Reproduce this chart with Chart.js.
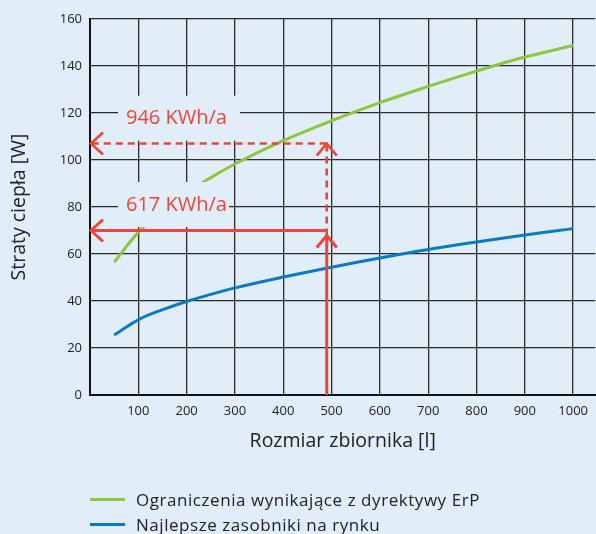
<!DOCTYPE html>
<html>
<head>
<meta charset="utf-8">
<script src="https://cdn.jsdelivr.net/npm/chart.js@4.4.1/dist/chart.umd.min.js"></script>
<style>
    html, body { margin: 0; padding: 0; background: #e1edf8; }
    #wrap { position: relative; width: 596px; height: 534px; }
    #legend { position: absolute; left: 90px; top: 487px; font-family: 'Open Sans', sans-serif; font-size: 17px; letter-spacing: 0.55px; color: #222; }
    .item { display: flex; align-items: center; height: 25px; }
    .swatch { width: 35px; height: 3px; margin-right: 11px; }
</style>
</head>
<body>
<div id="wrap">
    <canvas id="chart" width="596" height="534"></canvas>
    <div id="legend"></div>
</div>
<script>
// dane
const volumes = [50, 100, 150, 200, 250, 300, 400, 500, 600, 700, 800, 900, 1000];
const erpLimit = [56.5, 69.2, 78.5, 86.1, 92.5, 98.3, 108.2, 116.7, 124.4, 131.3, 137.8, 143.8, 148.7];
const bestOnMarket = [25.5, 32, 36.3, 39.8, 42.8, 45.6, 50.2, 54.4, 58.3, 61.9, 65.1, 68.1, 70.8];
const seriesLabels = ['Ograniczenia wynikające z dyrektywy ErP', 'Najlepsze zasobniki na rynku'];
const seriesColors = ['#8dc63f', '#0b7bc1'];
const xTickValues = [0, 100, 200, 300, 400, 500, 600, 700, 800, 900, 1000];

// adnotacje (strzałki)
const tankVolume = 490;
const lossLow = 70;
const lossHigh = 107;
const annotationTexts = ['946 KWh/a', '617 KWh/a'];
const annotationLevels = [118, 81.3];

const RED = '#ef4438';
const BG = '#e1edf8';
const GRID = '#2b2b2b';

const toPoints = (ys) => volumes.map((v, i) => ({ x: v, y: ys[i] }));

function arrowHead(ctx, tx, ty, dir) {
    ctx.beginPath();
    if (dir === 'left') {
        ctx.moveTo(tx + 12, ty - 11);
        ctx.lineTo(tx, ty);
        ctx.lineTo(tx + 12, ty + 11);
    } else {
        ctx.moveTo(tx - 10, ty + 12);
        ctx.lineTo(tx, ty);
        ctx.lineTo(tx + 10, ty + 12);
    }
    ctx.stroke();
}

const markersPlugin = {
    id: 'markers',
    afterDatasetsDraw(chart) {
        const { ctx, chartArea, scales: { x, y } } = chart;
        ctx.save();

        // ramki pod napisami zakrywają siatkę
        ctx.font = '20px "Open Sans", sans-serif';
        ctx.textBaseline = 'middle';
        const textX = chartArea.left + 36;
        const boxWidths = [122, 111];
        annotationTexts.forEach((t, i) => {
            const ty = y.getPixelForValue(annotationLevels[i]);
            ctx.fillStyle = BG;
            ctx.fillRect(textX - 8, ty - 22, boxWidths[i], 45);
            ctx.fillStyle = RED;
            ctx.fillText(t, textX, ty + 1);
        });

        const px = x.getPixelForValue(tankVolume);
        const yLow = y.getPixelForValue(lossLow);
        const yHigh = y.getPixelForValue(lossHigh);
        const left = chartArea.left + 1;

        ctx.strokeStyle = RED;
        ctx.lineCap = 'butt';
        ctx.lineJoin = 'miter';

        // linie ciągłe
        ctx.lineWidth = 3;
        ctx.beginPath();
        ctx.moveTo(px, chartArea.bottom);
        ctx.lineTo(px, yLow + 5);
        ctx.moveTo(px, yLow);
        ctx.lineTo(left, yLow);
        ctx.stroke();
        arrowHead(ctx, px, yLow + 5, 'up');
        arrowHead(ctx, left, yLow, 'left');

        // linie przerywane
        ctx.lineWidth = 2.6;
        ctx.setLineDash([7, 5]);
        ctx.beginPath();
        ctx.moveTo(px, yLow + 5);
        ctx.lineTo(px, yHigh);
        ctx.moveTo(px, yHigh);
        ctx.lineTo(left, yHigh);
        ctx.stroke();
        ctx.setLineDash([]);
        arrowHead(ctx, px, yHigh, 'up');
        arrowHead(ctx, left, yHigh, 'left');

        ctx.restore();
    }
};

const ctx = document.getElementById('chart').getContext('2d');
new Chart(ctx, {
    type: 'line',
    data: {
        datasets: [
            { label: seriesLabels[0], data: toPoints(erpLimit), borderColor: seriesColors[0], borderWidth: 3, pointRadius: 0, tension: 0.4, fill: false },
            { label: seriesLabels[1], data: toPoints(bestOnMarket), borderColor: seriesColors[1], borderWidth: 3, pointRadius: 0, tension: 0.4, fill: false }
        ]
    },
    options: {
        responsive: false,
        animation: false,
        layout: { padding: { top: 19, right: 0, bottom: 81, left: 0 } },
        plugins: { legend: { display: false }, tooltip: { enabled: false } },
        scales: {
            x: {
                type: 'linear',
                min: 0,
                max: 1046,
                afterBuildTicks: (scale) => { scale.ticks = xTickValues.map(v => ({ value: v })); },
                afterFit: (scale) => { scale.height = 58; },
                ticks: {
                    padding: 8,
                    maxRotation: 0,
                    autoSkip: false,
                    color: '#222',
                    font: { family: "'Open Sans', sans-serif", size: 13 },
                    callback: (v) => (v === 0 ? '' : v)
                },
                grid: { color: GRID, lineWidth: 1.3, drawTicks: false },
                border: { color: '#111', width: 2 },
                title: {
                    display: true,
                    text: 'Rozmiar zbiornika [l]',
                    color: '#222',
                    font: { family: "'Open Sans', sans-serif", size: 19.5 },
                    padding: { top: 0, bottom: 0 }
                }
            },
            y: {
                min: 0,
                max: 160,
                afterFit: (scale) => { scale.width = 90; },
                ticks: {
                    stepSize: 20,
                    padding: 8,
                    color: '#222',
                    font: { family: "'Open Sans', sans-serif", size: 13 }
                },
                grid: { color: GRID, lineWidth: 1.3, drawTicks: false },
                border: { color: '#111', width: 2 },
                title: {
                    display: true,
                    text: 'Straty ciepła [W]',
                    color: '#222',
                    font: { family: "'Open Sans', sans-serif", size: 19.5 },
                    padding: { top: 8, bottom: 0 }
                }
            }
        }
    },
    plugins: [markersPlugin]
});

// legenda pod wykresem
const legend = document.getElementById('legend');
seriesLabels.forEach((label, i) => {
    const row = document.createElement('div');
    row.className = 'item';
    row.innerHTML = '<span class="swatch" style="background:' + seriesColors[i] + '"></span><span>' + label + '</span>';
    legend.appendChild(row);
});
</script>
</body>
</html>
